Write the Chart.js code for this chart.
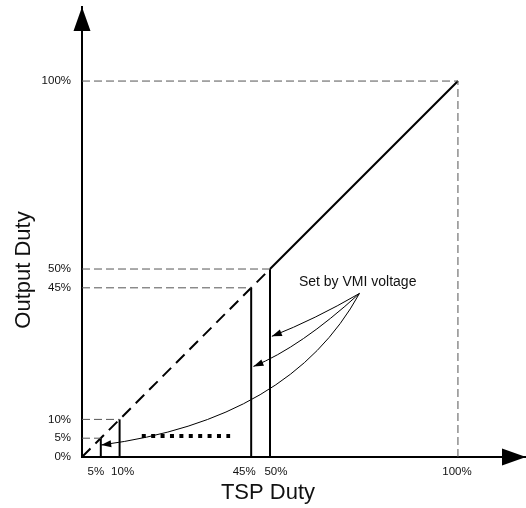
<!DOCTYPE html>
<html>
<head>
<meta charset="utf-8">
<script src="https://cdn.jsdelivr.net/npm/chart.js@4"></script>
<style>
  html, body { margin: 0; padding: 0; background: #fff; }
  #wrap { width: 526px; height: 508px; }
</style>
</head>
<body>
<div id="wrap"><canvas id="dutyChart"></canvas></div>
<script>
// tick labels
const xTicks = [5, 10, 45, 50, 100];
const yTicks = [0, 5, 10, 45, 50, 100];
// x labels are nudged apart where ticks sit close together (px)
const xLabelShift = [-5, 3, -7, 6, -1];

// TSP duty -> output duty transfer (first part dashed, rest solid)
const transferX = [0, 50, 100];
const transferY = [0, 50, 100];

// VMI clamp levels (vertical bars + dashed guides)
const vmiLevels = [5, 10, 45, 50];
const fullScale = 100;

// dotted "..." row between the small and large levels
const dotsX = [15.9, 39.4];
const dotsY = 5.6;

// "Set by VMI voltage" callout arrows, in % units
const calloutText = 'Set by VMI voltage';
const calloutAt = [57.7, 46.5];
const arrowFrom = [73.8, 43.5];
const arrowToX = [50.5, 45.6, 5.1];
const arrowToY = [32.1, 24.1, 3.2];
const arrowCtrlX = [61.9, 58.1, 55.3];
const arrowCtrlY = [36.6, 29.2, 9.8];

const font = 'Liberation Sans, Arial, sans-serif';

const datasets = [];

// gray dashed guides
const guide = { borderColor: '#555', borderWidth: 1, borderDash: [8, 4], pointRadius: 0, showLine: true, fill: false };
vmiLevels.concat([fullScale]).forEach(function (v) {
    datasets.push(Object.assign({ data: [{ x: 0, y: v }, { x: v, y: v }] }, guide));
});
datasets.push(Object.assign({ data: [{ x: fullScale, y: 0 }, { x: fullScale, y: fullScale }] }, guide));

// vertical VMI bars
vmiLevels.forEach(function (v) {
    datasets.push({ data: [{ x: v, y: 0 }, { x: v, y: v }], borderColor: '#000', borderWidth: 2, pointRadius: 0, showLine: true });
});

// transfer line
datasets.push({
    data: transferX.map(function (v, i) { return { x: v, y: transferY[i] }; }),
    borderColor: '#000', borderWidth: 2, pointRadius: 0, showLine: true,
    segment: { borderDash: function (c) { return c.p1DataIndex === 1 ? [12, 7] : undefined; } }
});

// dotted row
datasets.push({
    data: [{ x: dotsX[0], y: dotsY }, { x: dotsX[1], y: dotsY }],
    borderColor: '#000', borderWidth: 4, borderDash: [4, 5.4], borderCapStyle: 'butt',
    pointRadius: 0, showLine: true
});

function arrowHead(ctx, x0, y0, x1, y1, len, half) {
    const a = Math.atan2(y1 - y0, x1 - x0);
    ctx.beginPath();
    ctx.moveTo(x1, y1);
    ctx.lineTo(x1 - len * Math.cos(a) + half * Math.sin(a), y1 - len * Math.sin(a) - half * Math.cos(a));
    ctx.lineTo(x1 - len * Math.cos(a) - half * Math.sin(a), y1 - len * Math.sin(a) + half * Math.cos(a));
    ctx.closePath();
    ctx.fill();
}

const extras = {
    id: 'extras',
    afterDraw(chart) {
        const ctx = chart.ctx;
        const a = chart.chartArea;
        const x = chart.scales.x, y = chart.scales.y;
        ctx.save();
        ctx.fillStyle = '#000';
        ctx.strokeStyle = '#000';

        // axis arrowheads
        arrowHead(ctx, a.left, a.bottom, a.left, a.top, 24, 8.5);
        arrowHead(ctx, a.left, a.bottom, a.right, a.bottom, 24, 8.5);

        // callout curves
        const sx = x.getPixelForValue(arrowFrom[0]), sy = y.getPixelForValue(arrowFrom[1]);
        ctx.lineWidth = 1;
        arrowToX.forEach(function (tx, i) {
            const ex = x.getPixelForValue(tx), ey = y.getPixelForValue(arrowToY[i]);
            const cx = x.getPixelForValue(arrowCtrlX[i]), cy = y.getPixelForValue(arrowCtrlY[i]);
            ctx.beginPath();
            ctx.moveTo(sx, sy);
            ctx.quadraticCurveTo(cx, cy, ex, ey);
            ctx.stroke();
            arrowHead(ctx, cx, cy, ex, ey, 10, 3.5);
        });

        // x tick labels
        ctx.font = '11.5px ' + font;
        ctx.fillStyle = '#111';
        ctx.textAlign = 'center';
        ctx.textBaseline = 'middle';
        xTicks.forEach(function (v, i) {
            ctx.fillText(v + '%', x.getPixelForValue(v) + xLabelShift[i], a.bottom + 15);
        });

        ctx.font = '14px ' + font;
        ctx.fillStyle = '#111';
        ctx.textAlign = 'left';
        ctx.fillText(calloutText, x.getPixelForValue(calloutAt[0]), y.getPixelForValue(calloutAt[1]));

        // axis titles
        ctx.font = '22px ' + font;
        ctx.textAlign = 'center';
        ctx.fillText('TSP Duty', 268, 493);
        ctx.translate(24, 270);
        ctx.rotate(-Math.PI / 2);
        ctx.fillText('Output Duty', 0, 0);
        ctx.restore();
    }
};

new Chart(document.getElementById('dutyChart'), {
    type: 'scatter',
    data: { datasets: datasets },
    options: {
        responsive: true,
        maintainAspectRatio: false,
        animation: false,
        layout: { padding: { top: 7, right: 0, left: 0, bottom: 0 } },
        plugins: { legend: { display: false }, tooltip: { enabled: false } },
        scales: {
            x: {
                type: 'linear', min: 0, max: 118.1,
                afterBuildTicks: function (s) { s.ticks = xTicks.map(function (v) { return { value: v }; }); },
                afterFit: function (s) { s.height = 51; s.paddingLeft = 0; s.paddingRight = 0; },
                grid: { display: false, drawTicks: false },
                border: { display: true, color: '#000', width: 2 },
                ticks: { display: false }
            },
            y: {
                type: 'linear', min: 0, max: 119.7,
                afterBuildTicks: function (s) { s.ticks = yTicks.map(function (v) { return { value: v }; }); },
                afterFit: function (s) { s.width = 82; s.paddingTop = 0; s.paddingBottom = 0; },
                grid: { display: false, drawTicks: false },
                border: { display: true, color: '#000', width: 2 },
                ticks: { autoSkip: false, padding: 11, color: '#111', font: { family: font, size: 11.5 },
                    callback: function (v) { return v + '%'; } }
            }
        }
    },
    plugins: [extras]
});
</script>
</body>
</html>
